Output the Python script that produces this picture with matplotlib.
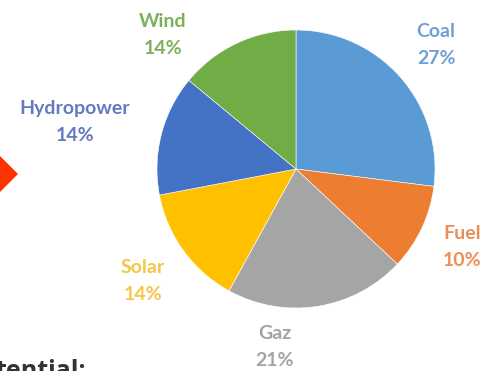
import matplotlib.pyplot as plt
from matplotlib.patches import Polygon

# energy mix shares, clockwise from 12 o'clock
sources = ['Coal', 'Fuel', 'Gaz', 'Solar', 'Hydropower', 'Wind']
shares = [27, 10, 21, 14, 14, 14]
colors = ['#5B9BD5', '#ED7D31', '#A5A5A5', '#FFC000', '#4472C4', '#70AD47']
label_colors = ['#6F9FD4', '#EC8F56', '#A3A3A3', '#F6C64A', '#6479C0', '#7DB05A']

# label anchors in pixel space (x from left, y from top)
label_pos = [(436, 45), (462, 247), (275, 347), (143, 281), (75, 122), (163, 35)]

W, H = 480, 371
fig = plt.figure(figsize=(W / 100, H / 100), dpi=100)
ax = fig.add_axes([0, 0, 1, 1])
ax.set_xlim(0, W)
ax.set_ylim(0, H)
ax.set_aspect('equal')
ax.axis('off')

ax.pie(shares, colors=colors, startangle=90, counterclock=False,
       center=(296, H - 169), radius=139,
       wedgeprops=dict(edgecolor='white', linewidth=0.4))
ax.set_xlim(0, W)
ax.set_ylim(0, H)

for name, val, col, (px, py) in zip(sources, shares, label_colors, label_pos):
    ax.text(px, H - py, f'{name}\n{val}%', color=col, ha='center', va='center',
            fontsize=14, fontweight='bold', family='Lato', linespacing=1.75)

# orange pointer on the left edge
ax.add_patch(Polygon([(-2, H - 154), (18, H - 174), (-2, H - 194)],
                     closed=True, color='#FF3300', lw=0))

ax.text(-5, H - 378, 'tential:', color='#333333', fontsize=18, fontweight='bold',
        family='Open Sans', ha='left', va='baseline')

fig.savefig('out.png', dpi=100)
